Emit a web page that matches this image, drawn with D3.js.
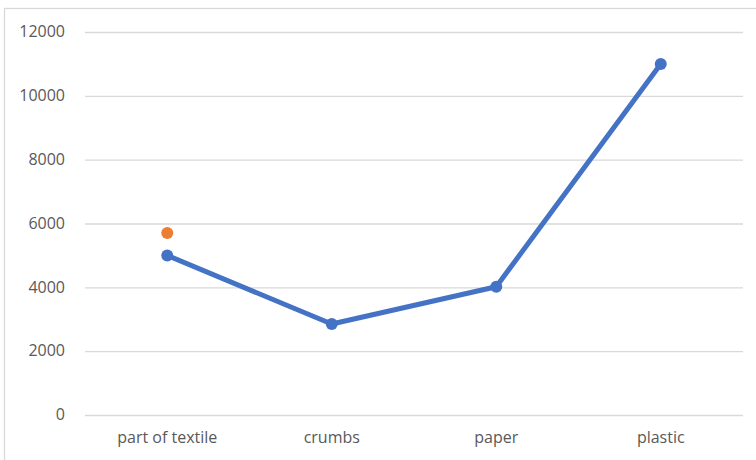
<!DOCTYPE html>
<html>
<head>
<meta charset="utf-8">
<script src="https://cdn.jsdelivr.net/npm/d3@7"></script>
<style>
  html, body { margin: 0; padding: 0; background: #fff; }
  svg { display: block; }
</style>
</head>
<body>
<svg id="chart" width="756" height="460"></svg>
<script>
// Waste categories and measured amounts
const categories = ["part of textile", "crumbs", "paper", "plastic"];
const mainSeries = [5000, 2850, 4020, 11000];
const extraSeries = [5700, null, null, null];
const yTicks = [0, 2000, 4000, 6000, 8000, 10000, 12000];

const width = 756, height = 460;
const plot = { left: 85, right: 743, top: 32, bottom: 415 };

const svg = d3.select("#chart");

// Chart frame
svg.append("rect")
  .attr("x", 4.5).attr("y", 8.5)
  .attr("width", width + 10).attr("height", height + 10)
  .attr("fill", "none")
  .attr("stroke", "#d9d9d9")
  .attr("stroke-width", 1.3);

const x = d3.scaleBand()
  .domain(categories)
  .range([plot.left, plot.right])
  .paddingInner(0).paddingOuter(0);

const y = d3.scaleLinear()
  .domain([0, 12000])
  .range([plot.bottom, plot.top]);

// Horizontal gridlines with value labels
const yAxis = d3.axisLeft(y)
  .tickValues(yTicks)
  .tickSize(-(plot.right - plot.left))
  .tickPadding(20)
  .tickFormat(d3.format("d"));

const gy = svg.append("g")
  .attr("transform", `translate(${plot.left},0)`)
  .call(yAxis);
gy.select(".domain").remove();
gy.selectAll(".tick line")
  .attr("stroke", "#d9d9d9")
  .attr("stroke-width", 1.3);
gy.selectAll(".tick text")
  .attr("fill", "#595959")
  .attr("dy", "0.3em")
  .style("font-family", "'Open Sans', sans-serif")
  .style("font-size", "16px");

// Category labels along the bottom
const xAxis = d3.axisBottom(x).tickSize(0).tickPadding(17);
const gx = svg.append("g")
  .attr("transform", `translate(0,${plot.bottom})`)
  .call(xAxis);
gx.select(".domain").remove();
gx.selectAll(".tick text")
  .attr("fill", "#595959")
  .style("font-family", "'Open Sans', sans-serif")
  .style("font-size", "16px");

const cx = d => x(d) + x.bandwidth() / 2;

// Main series line with markers
const pts = categories.map((c, i) => ({ c, v: mainSeries[i] }));
const line = d3.line().x(d => cx(d.c)).y(d => y(d.v));

svg.append("path")
  .datum(pts)
  .attr("d", line)
  .attr("fill", "none")
  .attr("stroke", "#4472c4")
  .attr("stroke-width", 5)
  .attr("stroke-linejoin", "round")
  .attr("stroke-linecap", "round");

svg.selectAll("circle.main")
  .data(pts)
  .join("circle")
  .attr("class", "main")
  .attr("cx", d => cx(d.c))
  .attr("cy", d => y(d.v))
  .attr("r", 6)
  .attr("fill", "#4472c4");

// Second series: single point
const extraPts = categories
  .map((c, i) => ({ c, v: extraSeries[i] }))
  .filter(d => d.v != null);

svg.selectAll("circle.extra")
  .data(extraPts)
  .join("circle")
  .attr("class", "extra")
  .attr("cx", d => cx(d.c))
  .attr("cy", d => y(d.v))
  .attr("r", 6)
  .attr("fill", "#ed7d31");
</script>
</body>
</html>
